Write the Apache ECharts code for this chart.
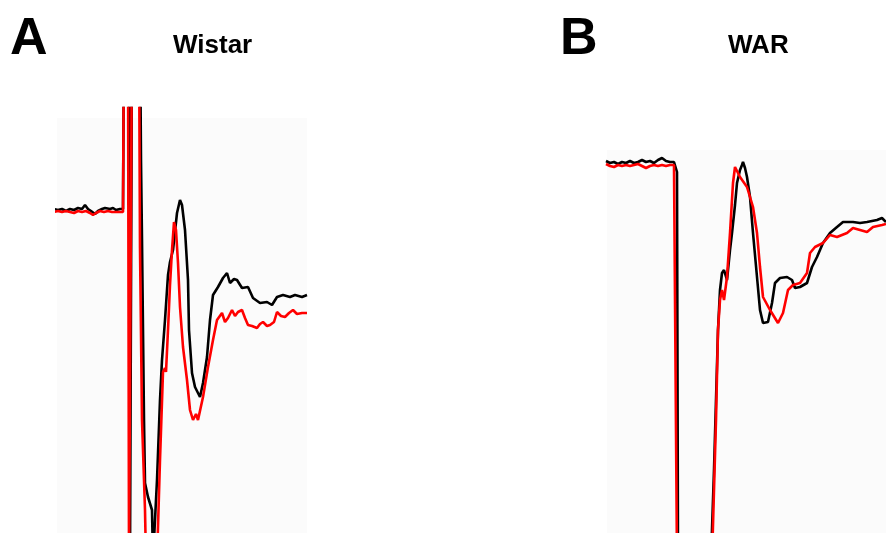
<!DOCTYPE html>
<html>
<head>
<meta charset="utf-8">
<script src="https://cdn.jsdelivr.net/npm/echarts@6/dist/echarts.min.js"></script>
<style>html,body{margin:0;padding:0;background:#fff}#c{width:886px;height:533px}</style>
</head>
<body>
<div id="c"></div>
<script>
// Panel A (Wistar): time (a.u.) and potential (a.u.)
const wistarBlackT = [-1.5,0.5,2.5,4.5,6.5,8.5,10.5,12.5,14,15.5,17,19,20.5,22.5,24,25,26.5,28,29.5,31.5,33,33.5,36,36.5,37,37.5,41.5,42,42.5,43,43.5,44,45.5,46.5,47.5,48,49,50,51.5,52.5,54,55.5,56.5,58,60,61.5,62.5,64,65.5,66,67.5,69,71.5,73,75,76.5,78,80.5,83,85,86.5,88.5,90,92.5,95.5,98,101.5,105,107.5,110,113,116.5,119,122.5,125];
const wistarBlackV = [-0.5,-1,-0.5,-1.5,-0.5,-1,0,-0.5,1.5,-0.5,-1.5,-3,-1.5,-0.5,0,1,-0.5,0,-1,-0.5,-0.5,90,90,-176,-176,90,90,24,-16,-61,-106,-137.5,-144.5,-144.5,-151,-176,-176,-136,-96,-76,-56,-33.5,-27,-21,-2.5,4,1.5,-11,-36,-61,-82.5,-89.5,-94.5,-87.5,-74.5,-56,-43.5,-39.5,-35,-32.5,-37.5,-35.5,-36,-40,-39.5,-45,-47.5,-47,-48.5,-44.5,-43.5,-44.5,-43.5,-44.5,-43.5];
const wistarRedT = [-1.5,0.5,2.5,4.5,6.5,8.5,10.5,12.5,14.5,16.5,18,19.5,21.5,23.5,25.5,27.5,29.5,31.5,33,33.5,35.5,36,37,37.5,41,41.5,42.5,44,44.5,50,51.5,53,54,54.5,55.5,56.5,57.5,58.5,59.5,60.5,61.5,63,65,66.5,68,69.5,70.5,73,75.5,78,80,82.5,84,85.5,87.5,89,90.5,92.5,94,95.5,97.5,100,101.5,103,105,106.5,108.5,110,112,114,116,118,120,122.5,125];
const wistarRedV = [-2,-1.5,-2,-1.5,-2,-2.5,-1.5,-2,-1.5,-2.5,-3.5,-2.5,-1.5,-2,-1.5,-2,-2,-2,-2,90,90,-176,-176,90,90,-20,-106,-151,-176,-176,-126,-82,-80,-82,-61,-38.5,-21,-7,-11,-27.5,-49.5,-69.5,-86,-101,-106,-103,-106,-94.5,-79.5,-66,-56,-52.5,-57,-55,-51,-54,-52,-51,-55,-58.5,-59,-60,-58,-57,-59,-58.5,-57,-52,-54,-54.5,-52.5,-51,-53,-52.5,-52.5];
const wistarPanel = {t: [0, 125], v: [45, -162.5]};

// Panel B (WAR)
const warBlackT = [-0.5,1.5,3.5,5.5,7.5,9.5,11.5,13.5,15.5,17.5,19.5,21.5,23.5,25.5,27.5,29.5,31.5,33.5,34.5,35,35.5,52,53.5,54.5,55.5,56.5,57.5,58.5,60,61.5,62.5,64,65,66.5,67.5,68,69,70,71.5,73,75,76.5,78,80.5,82.5,84,86.5,90,92.5,94,96.5,100,102.5,105,108,111.5,115,118,123,126.5,130,132.5,135,137.5,139.5];
const warBlackV = [0.5,-0.5,0,-1,0,-0.5,0.5,-0.5,0,1,0,0.5,-0.5,1,2,0.5,0,0,-0.5,-5,-199,-199,-154,-119,-84,-64,-55.5,-54,-59,-44,-35.5,-21.5,-10.5,-4,-1.5,0,-3,-7.5,-17.5,-35.5,-57.5,-74,-80.5,-80,-70.5,-60.5,-58,-57.5,-59,-63,-62.5,-60.5,-52.5,-47.5,-40.5,-35.5,-32.5,-30,-30,-30.5,-30,-29.5,-29,-28,-30];
const warRedT = [-0.5,1.5,3.5,5.5,7.5,9.5,11.5,13.5,15.5,17.5,19.5,21.5,23.5,25.5,27.5,29.5,31.5,33.5,34.5,35,52.5,54.5,55.5,56.5,57.5,58.5,60,61.5,63,64,65,66.5,70,73,75,76.5,78,81.5,85.5,88,90.5,93,96.5,100,101.5,104,108,111.5,115,120,123,126.5,130,133,137.5,139.5];
const warRedV = [-1,-2,-2.5,-1.5,-2,-1.5,-2,-1.5,-1,-2,-3,-2,-1.5,-2,-1.5,-2,-1.5,-1.5,-2,-199,-199,-129,-84,-69,-64,-69,-57.5,-35.5,-10.5,-2.5,-3,-7.5,-12.5,-22.5,-35.5,-52.5,-67.5,-74,-80.5,-75.5,-64,-61.5,-60.5,-55.5,-45.5,-42.5,-40.5,-36.5,-37.5,-35.5,-33,-34,-35,-32.5,-31.5,-31];

const zip = (t, v) => t.map((x, i) => [x, v[i]]);

const chart = echarts.init(document.getElementById('c'), null, {renderer: 'canvas'});
const hiddenAxis = {show: false, axisLine: {show: false}, splitLine: {show: false}, axisTick: {show: false}, axisLabel: {show: false}};
const lineStyleOf = c => ({color: c, width: 2.6});
const font = (s) => 'bold ' + s + 'px "Liberation Sans", Arial, sans-serif';
chart.setOption({
  animation: false,
  backgroundColor: '#ffffff',
  grid: [
    {left: 57, top: 108, width: 250, height: 425, show: false},
    {left: 607, top: 150, width: 279, height: 383, show: true, backgroundColor: '#fbfbfb', borderWidth: 0}
  ],
  xAxis: [
    Object.assign({type: 'value', gridIndex: 0, min: 0, max: 125}, hiddenAxis),
    Object.assign({type: 'value', gridIndex: 1, min: 0, max: 139.5}, hiddenAxis)
  ],
  yAxis: [
    Object.assign({type: 'value', gridIndex: 0, min: -162.5, max: 50}, hiddenAxis),
    Object.assign({type: 'value', gridIndex: 1, min: -185.5, max: 6}, hiddenAxis)
  ],
  graphic: [
    {type: 'text', left: 10, top: 14, style: {text: 'A', font: font(52), fill: '#000'}},
    {type: 'text', left: 560, top: 14, style: {text: 'B', font: font(52), fill: '#000'}},
    {type: 'text', left: 173, top: 33, style: {text: 'Wistar', font: font(26), fill: '#000'}},
    {type: 'text', left: 728, top: 33, style: {text: 'WAR', font: font(26), fill: '#000'}}
  ],
  series: [
    {name: 'Wistar background', type: 'line', xAxisIndex: 0, yAxisIndex: 0, data: [], z: 1, silent: true,
     markArea: {silent: true, itemStyle: {color: '#fbfbfb'},
       data: [[{xAxis: wistarPanel.t[0], yAxis: wistarPanel.v[0]}, {xAxis: wistarPanel.t[1], yAxis: wistarPanel.v[1]}]]}},
    {name: 'Wistar control', type: 'line', xAxisIndex: 0, yAxisIndex: 0, data: zip(wistarBlackT, wistarBlackV), showSymbol: false, symbol: 'none', clip: true, lineStyle: lineStyleOf('#000000'), z: 2},
    {name: 'Wistar treated', type: 'line', xAxisIndex: 0, yAxisIndex: 0, data: zip(wistarRedT, wistarRedV), showSymbol: false, symbol: 'none', clip: true, lineStyle: lineStyleOf('#ff0000'), z: 3},
    {name: 'WAR control', type: 'line', xAxisIndex: 1, yAxisIndex: 1, data: zip(warBlackT, warBlackV), showSymbol: false, symbol: 'none', clip: false, lineStyle: lineStyleOf('#000000'), z: 2},
    {name: 'WAR treated', type: 'line', xAxisIndex: 1, yAxisIndex: 1, data: zip(warRedT, warRedV), showSymbol: false, symbol: 'none', clip: false, lineStyle: lineStyleOf('#ff0000'), z: 3}
  ]
});
</script>
</body>
</html>
